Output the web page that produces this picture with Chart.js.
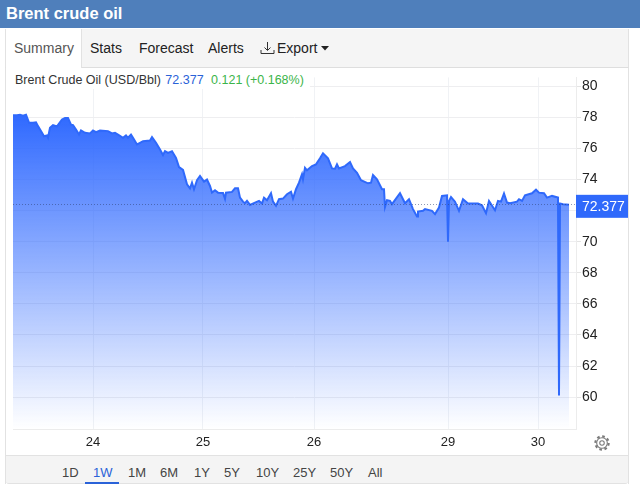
<!DOCTYPE html>
<html>
<head>
<meta charset="utf-8">
<title>Brent crude oil</title>
<script src="https://cdn.jsdelivr.net/npm/chart.js@4/dist/chart.umd.min.js"></script>
<style>
    * { box-sizing: border-box; }
    html, body { margin: 0; padding: 0; background: #fff; }
    body { position: relative; width: 640px; height: 488px; overflow: hidden; font-family: "Liberation Sans", Arial, sans-serif; color: #222; }
    #header { position: absolute; left: 0; top: 0; width: 640px; height: 28px; background: #4f7fbb; color: #fff; font-weight: bold; font-size: 16.5px; line-height: 27px; padding-left: 6px; }
    #tabs { position: absolute; left: 5px; top: 29px; width: 624px; height: 39px; background: #f5f5f5; border-bottom: 1px solid #dedede; border-left: 1px solid #e2e2e2; border-right: 1px solid #e2e2e2; }
    #tabActive { position: absolute; left: 0; top: 0; width: 76px; height: 39px; background: #fff; border-right: 1px solid #e2e2e2; }
    .tab { position: absolute; top: 11px; font-size: 14px; line-height: 16px; white-space: nowrap; }
    #miGrafico { position: absolute; left: 0; top: 68px; }
    #frameLeft { position: absolute; left: 5px; top: 68px; width: 1px; height: 416px; background: #e2e2e2; }
    #frameRight { position: absolute; left: 628px; top: 68px; width: 1px; height: 416px; background: #e2e2e2; }
    #legend { position: absolute; left: 13px; top: 70px; width: 297px; height: 19px; background: #fff; padding-left: 2px; font-size: 12.5px; line-height: 21px; white-space: nowrap; color: #333; }
    #legend .precio { color: #2a62d8; margin-left: 1px; }
    #legend .cambio { color: #3bb54a; margin-left: 4px; }
    #gear { position: absolute; left: 594px; top: 435px; width: 16px; height: 16px; }
    #ranges { position: absolute; left: 6px; top: 455px; width: 622px; height: 29px; background: #f4f4f4; border-top: 1px solid #e2e2e2; border-bottom: 1px solid #e2e2e2; border-radius: 0 0 3px 3px; }
    .rango { position: absolute; top: 9px; font-size: 13px; line-height: 15px; color: #444; }
    .rango.activo { color: #2a62d8; }
    #rangoLinea { position: absolute; left: 79px; top: 26px; width: 34px; height: 2px; background: #2a62d8; }
</style>
</head>
<body>
<div id="header">Brent crude oil</div>
<div id="tabs">
    <div id="tabActive"></div>
    <span class="tab" style="left:8px;color:#555">Summary</span>
    <span class="tab" style="left:84px">Stats</span>
    <span class="tab" style="left:133px">Forecast</span>
    <span class="tab" style="left:202px">Alerts</span>
    <svg style="position:absolute;left:254px;top:12px" width="15" height="14" viewBox="0 0 15 14" fill="none" stroke="#333" stroke-width="1">
        <path d="M7.5 1v8M4.5 6.5l3 3 3-3M1 9v3.5h13V9"/>
    </svg>
    <span class="tab" style="left:271px">Export</span>
    <svg style="position:absolute;left:315px;top:17px" width="8" height="5" viewBox="0 0 8 5"><path d="M0 0h8L4 4.500z" fill="#222"/></svg>
</div>
<canvas id="miGrafico" width="640" height="386"></canvas>
<div id="frameLeft"></div>
<div id="frameRight"></div>
<div id="legend">Brent Crude Oil (USD/Bbl) <span class="precio" id="legendPrice"></span> <span class="cambio">0.121 (+0.168%)</span></div>
<svg id="gear" viewBox="0 0 24 24" fill="none" stroke="#7a7a7a">
    <circle cx="12" cy="12" r="3.400" stroke-width="1.600"/>
    <circle cx="12" cy="12" r="8" stroke-width="1.600"/>
    <circle cx="12" cy="12" r="10" stroke-width="3.200" stroke-dasharray="3.900 3.954"/>
</svg>
<div id="ranges">
    <span class="rango" style="left:56px">1D</span>
    <span class="rango activo" style="left:87px">1W</span>
    <span class="rango" style="left:122px">1M</span>
    <span class="rango" style="left:154px">6M</span>
    <span class="rango" style="left:188px">1Y</span>
    <span class="rango" style="left:218px">5Y</span>
    <span class="rango" style="left:250px">10Y</span>
    <span class="rango" style="left:287px">25Y</span>
    <span class="rango" style="left:324px">50Y</span>
    <span class="rango" style="left:362px">All</span>
    <div id="rangoLinea"></div>
</div>
<script>
// Trading bars of the week and the Brent price at each one
const barras = [
    0, 4, 7, 10, 13, 16, 20, 23, 25, 29, 31, 34, 35, 37, 40, 44, 49, 52, 55, 58,
    60, 63, 66, 68, 72, 77, 80, 83, 87, 95, 99, 102, 105, 110, 113, 115, 118, 120, 124, 127,
    130, 137, 139, 143, 147, 150, 152, 155, 159, 163, 166, 170, 174, 177, 179, 181, 184, 187, 191, 194,
    197, 199, 202, 205, 210, 212, 213, 219, 222, 225, 227, 230, 232, 234, 237, 242, 246, 249, 251, 254,
    258, 260, 263, 266, 270, 274, 278, 280, 283, 286, 289, 290, 292, 294, 299, 303, 307, 310, 315, 319,
    322, 324, 326, 332, 337, 340, 344, 348, 355, 358, 360, 364, 369, 371, 372, 374, 377, 379, 387, 392,
    396, 400, 404, 405, 410, 412, 419, 422, 426, 429, 434, 435, 436, 438, 442, 446, 450, 455, 465, 469,
    473, 476, 482, 485, 488, 491, 494, 497, 504, 506, 509, 512, 519, 523, 526, 531, 534, 539, 545, 546,
    547, 550, 556
];
const precios = [
    78.14, 78.14, 78.17, 78.11, 78.17, 77.66, 77.66, 77.69, 77.44, 77.02, 76.79, 76.84, 76.70, 77.34, 77.50, 77.42, 77.87, 77.97, 77.97, 77.54,
    77.50, 77.22, 76.90, 77.16, 77.01, 76.97, 77.16, 77.05, 77.16, 77.12, 76.97, 77.01, 76.90, 76.69, 76.84, 76.69, 76.90, 76.69, 76.26, 76.37,
    76.47, 76.52, 76.73, 76.37, 75.94, 75.58, 75.83, 75.72, 75.83, 75.40, 74.81, 74.62, 73.70, 73.44, 73.80, 73.38, 73.96, 74.23, 73.87, 74.00,
    73.59, 73.16, 73.31, 73.16, 73.14, 72.76, 73.16, 73.21, 73.44, 73.44, 72.84, 72.58, 72.48, 72.63, 72.37, 72.52, 72.63, 72.46, 72.84, 72.67,
    73.12, 72.58, 72.31, 72.74, 72.78, 73.06, 73.22, 72.78, 73.38, 73.80, 74.34, 74.02, 74.76, 74.60, 74.87, 74.98, 75.37, 75.69, 75.37, 74.72,
    74.70, 74.98, 74.72, 74.87, 75.13, 74.72, 74.44, 73.96, 73.76, 73.80, 74.29, 74.02, 73.38, 73.38, 72.24, 72.67, 72.63, 72.42, 73.12, 72.48,
    72.74, 72.10, 71.62, 71.94, 71.99, 72.10, 71.99, 71.78, 72.20, 72.95, 72.99, 70.00, 72.63, 72.88, 72.58, 71.99, 72.74, 72.46, 72.46, 72.35,
    71.84, 72.63, 72.03, 72.63, 72.58, 73.10, 72.52, 72.48, 72.58, 72.74, 72.63, 72.99, 73.12, 73.35, 73.16, 73.12, 72.84, 72.95, 72.84, 60.10,
    72.46, 72.42, 72.377
];

// Day marks on the bottom axis and price marks on the right axis
const barrasDia = [80, 190, 301, 435, 525];
const etiquetasDia = ['24', '25', '26', '29', '30'];
const marcasPrecio = [60, 62, 64, 66, 68, 70, 72, 74, 76, 78, 80];

const ultimoPrecio = 72.377;
const azul = '#2f69fb';

document.getElementById('legendPrice').textContent = ultimoPrecio.toFixed(3);

// Dotted line at the last price and the value box on the axis
const marcaUltimo = {
    id: 'marcaUltimo',
    afterDatasetsDraw(chart) {
        const { ctx, chartArea, scales } = chart;
        const y = scales.y.getPixelForValue(ultimoPrecio);
        ctx.save();
        ctx.strokeStyle = 'rgba(50, 70, 120, 0.55)';
        ctx.lineWidth = 1;
        ctx.setLineDash([1, 2]);
        ctx.beginPath();
        ctx.moveTo(chartArea.left, Math.round(y) - 0.5);
        ctx.lineTo(chartArea.right, Math.round(y) - 0.5);
        ctx.stroke();
        ctx.setLineDash([]);
        ctx.fillStyle = azul;
        ctx.fillRect(chartArea.right, y - 10, 52, 23);
        ctx.fillStyle = '#fff';
        ctx.font = '14px "Liberation Sans", Arial, sans-serif';
        ctx.textAlign = 'left';
        ctx.textBaseline = 'middle';
        ctx.fillText(ultimoPrecio.toFixed(3), chartArea.right + 6, y + 2);
        ctx.restore();
    }
};

new Chart(document.getElementById('miGrafico'), {
    type: 'line',
    data: {
        datasets: [{
            label: 'Brent Crude Oil (USD/Bbl)',
            data: barras.map((b, i) => ({ x: b, y: precios[i] })),
            borderColor: azul,
            borderWidth: 2,
            pointRadius: 0,
            tension: 0,
            fill: 'start',
            backgroundColor(context) {
                const area = context.chart.chartArea;
                if (!area) {
                    return 'rgba(47, 105, 251, 0.5)';
                }
                const grad = context.chart.ctx.createLinearGradient(0, 46, 0, area.bottom);
                grad.addColorStop(0, 'rgba(47, 105, 255, 1)');
                grad.addColorStop(1, 'rgba(47, 105, 255, 0)');
                return grad;
            }
        }]
    },
    options: {
        responsive: false,
        animation: false,
        layout: { padding: { left: 13, top: 0, right: 0, bottom: 0 } },
        plugins: {
            legend: { display: false },
            title: { display: false },
            tooltip: { enabled: false }
        },
        scales: {
            x: {
                type: 'linear',
                min: 0,
                max: 563,
                afterFit(scale) { scale.height = 25; },
                afterBuildTicks(scale) { scale.ticks = barrasDia.map(v => ({ value: v })); },
                grid: { color: '#f0f2f5', tickLength: 0, drawTicks: false },
                border: { color: '#ececec' },
                ticks: {
                    autoSkip: false,
                    maxRotation: 0,
                    padding: 6,
                    color: '#222',
                    font: { family: '"Liberation Sans", Arial, sans-serif', size: 13 },
                    callback: (v) => etiquetasDia[barrasDia.indexOf(v)]
                }
            },
            y: {
                position: 'right',
                min: 57.95,
                max: 80.577,
                afterFit(scale) { scale.width = 64; },
                afterBuildTicks(scale) { scale.ticks = marcasPrecio.map(v => ({ value: v })); },
                grid: { color: '#eeeef0', tickColor: '#e4e4e4', tickLength: 5 },
                border: { color: '#ececec' },
                ticks: {
                    padding: 1,
                    color: '#222',
                    font: { family: '"Liberation Sans", Arial, sans-serif', size: 14 }
                }
            }
        }
    },
    plugins: [marcaUltimo]
});
</script>
</body>
</html>
